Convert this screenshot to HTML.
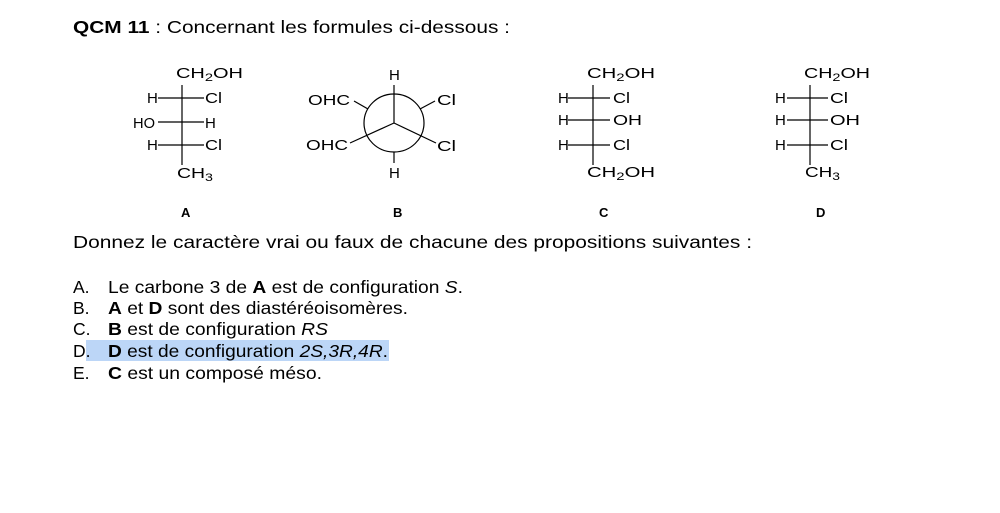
<!DOCTYPE html>
<html><head><meta charset="utf-8"><style>
html,body{margin:0;padding:0;background:#fff;width:1000px;height:513px;overflow:hidden}
svg{display:block}
text{font-family:"Liberation Sans",Arial,sans-serif;fill:#000}
.m{font-size:15px}
.s{font-size:11px}
.t{font-size:17.5px}
</style></head><body>
<svg width="1000" height="513" viewBox="0 0 1000 513">
<rect x="86" y="340" width="303" height="21" fill="#bcd6f7"/>
<text x="73" y="33" class="t" textLength="437" lengthAdjust="spacingAndGlyphs"><tspan font-weight="bold">QCM 11</tspan> : Concernant les formules ci-dessous :</text>

<g stroke="#000" stroke-width="1.2" fill="none">
<line x1="182" y1="85" x2="182" y2="165"/>
<line x1="158" y1="98" x2="204" y2="98"/>
<line x1="158" y1="122" x2="204" y2="122"/>
<line x1="158" y1="145" x2="204" y2="145"/>
<ellipse cx="394" cy="123" rx="30" ry="29"/>
<line x1="394" y1="123" x2="394" y2="85"/>
<line x1="394" y1="123" x2="350" y2="143"/>
<line x1="394" y1="123" x2="436" y2="143"/>
<line x1="368" y1="109" x2="354" y2="101"/>
<line x1="420" y1="109" x2="435" y2="101"/>
<line x1="394" y1="152" x2="394" y2="163"/>
<line x1="593" y1="85" x2="593" y2="165"/>
<line x1="568" y1="98" x2="610" y2="98"/>
<line x1="568" y1="120" x2="610" y2="120"/>
<line x1="568" y1="145" x2="610" y2="145"/>
<line x1="810" y1="85" x2="810" y2="165"/>
<line x1="787" y1="98" x2="828" y2="98"/>
<line x1="787" y1="120" x2="828" y2="120"/>
<line x1="787" y1="145" x2="828" y2="145"/>
</g>

<!-- A -->
<text x="176" y="78" class="m" textLength="67" lengthAdjust="spacingAndGlyphs">CH<tspan class="s" dy="3">2</tspan><tspan dy="-3">OH</tspan></text>
<text x="147" y="103" class="m">H</text><text x="205" y="103" class="m" textLength="17" lengthAdjust="spacingAndGlyphs">Cl</text>
<text x="133" y="128" class="m" textLength="22" lengthAdjust="spacingAndGlyphs">HO</text><text x="205" y="128" class="m">H</text>
<text x="147" y="150" class="m">H</text><text x="205" y="150" class="m" textLength="17" lengthAdjust="spacingAndGlyphs">Cl</text>
<text x="177" y="178" class="m" textLength="36" lengthAdjust="spacingAndGlyphs">CH<tspan class="s" dy="3">3</tspan></text>
<text x="181" y="217" font-size="13" font-weight="bold">A</text>
<!-- B -->
<text x="389" y="80" class="m">H</text>
<text x="308" y="105" class="m" textLength="42" lengthAdjust="spacingAndGlyphs">OHC</text>
<text x="437" y="105" class="m" textLength="19" lengthAdjust="spacingAndGlyphs">Cl</text>
<text x="306" y="150" class="m" textLength="42" lengthAdjust="spacingAndGlyphs">OHC</text>
<text x="437" y="151" class="m" textLength="19" lengthAdjust="spacingAndGlyphs">Cl</text>
<text x="389" y="178" class="m">H</text>
<text x="393" y="217" font-size="13" font-weight="bold">B</text>
<!-- C -->
<text x="587" y="78" class="m" textLength="68" lengthAdjust="spacingAndGlyphs">CH<tspan class="s" dy="3">2</tspan><tspan dy="-3">OH</tspan></text>
<text x="558" y="103" class="m">H</text><text x="613" y="103" class="m" textLength="17" lengthAdjust="spacingAndGlyphs">Cl</text>
<text x="558" y="125" class="m">H</text><text x="613" y="125" class="m" textLength="29" lengthAdjust="spacingAndGlyphs">OH</text>
<text x="558" y="150" class="m">H</text><text x="613" y="150" class="m" textLength="17" lengthAdjust="spacingAndGlyphs">Cl</text>
<text x="587" y="177" class="m" textLength="68" lengthAdjust="spacingAndGlyphs">CH<tspan class="s" dy="3">2</tspan><tspan dy="-3">OH</tspan></text>
<text x="599" y="217" font-size="13" font-weight="bold">C</text>
<!-- D -->
<text x="804" y="78" class="m" textLength="66" lengthAdjust="spacingAndGlyphs">CH<tspan class="s" dy="3">2</tspan><tspan dy="-3">OH</tspan></text>
<text x="775" y="103" class="m">H</text><text x="830" y="103" class="m" textLength="18" lengthAdjust="spacingAndGlyphs">Cl</text>
<text x="775" y="125" class="m">H</text><text x="830" y="125" class="m" textLength="30" lengthAdjust="spacingAndGlyphs">OH</text>
<text x="775" y="150" class="m">H</text><text x="830" y="150" class="m" textLength="18" lengthAdjust="spacingAndGlyphs">Cl</text>
<text x="805" y="177" class="m" textLength="35" lengthAdjust="spacingAndGlyphs">CH<tspan class="s" dy="3">3</tspan></text>
<text x="816" y="217" font-size="13" font-weight="bold">D</text>

<text x="73" y="248" class="t" textLength="679" lengthAdjust="spacingAndGlyphs">Donnez le caractère vrai ou faux de chacune des propositions suivantes :</text>

<text x="73" y="293" class="t">A.</text><text x="108" y="293" class="t" textLength="355" lengthAdjust="spacingAndGlyphs">Le carbone 3 de <tspan font-weight="bold">A</tspan> est de configuration <tspan font-style="italic">S</tspan>.</text>
<text x="73" y="314" class="t">B.</text><text x="108" y="314" class="t" textLength="300" lengthAdjust="spacingAndGlyphs"><tspan font-weight="bold">A</tspan> et <tspan font-weight="bold">D</tspan> sont des diastéréoisomères.</text>
<text x="73" y="335" class="t">C.</text><text x="108" y="335" class="t" textLength="220" lengthAdjust="spacingAndGlyphs"><tspan font-weight="bold">B</tspan> est de configuration <tspan font-style="italic">RS</tspan></text>
<text x="73" y="357" class="t">D.</text><text x="108" y="357" class="t" textLength="280" lengthAdjust="spacingAndGlyphs"><tspan font-weight="bold">D</tspan> est de configuration <tspan font-style="italic">2S,3R,4R</tspan>.</text>
<text x="73" y="379" class="t">E.</text><text x="108" y="379" class="t" textLength="214" lengthAdjust="spacingAndGlyphs"><tspan font-weight="bold">C</tspan> est un composé méso.</text>
</svg>
</body></html>
